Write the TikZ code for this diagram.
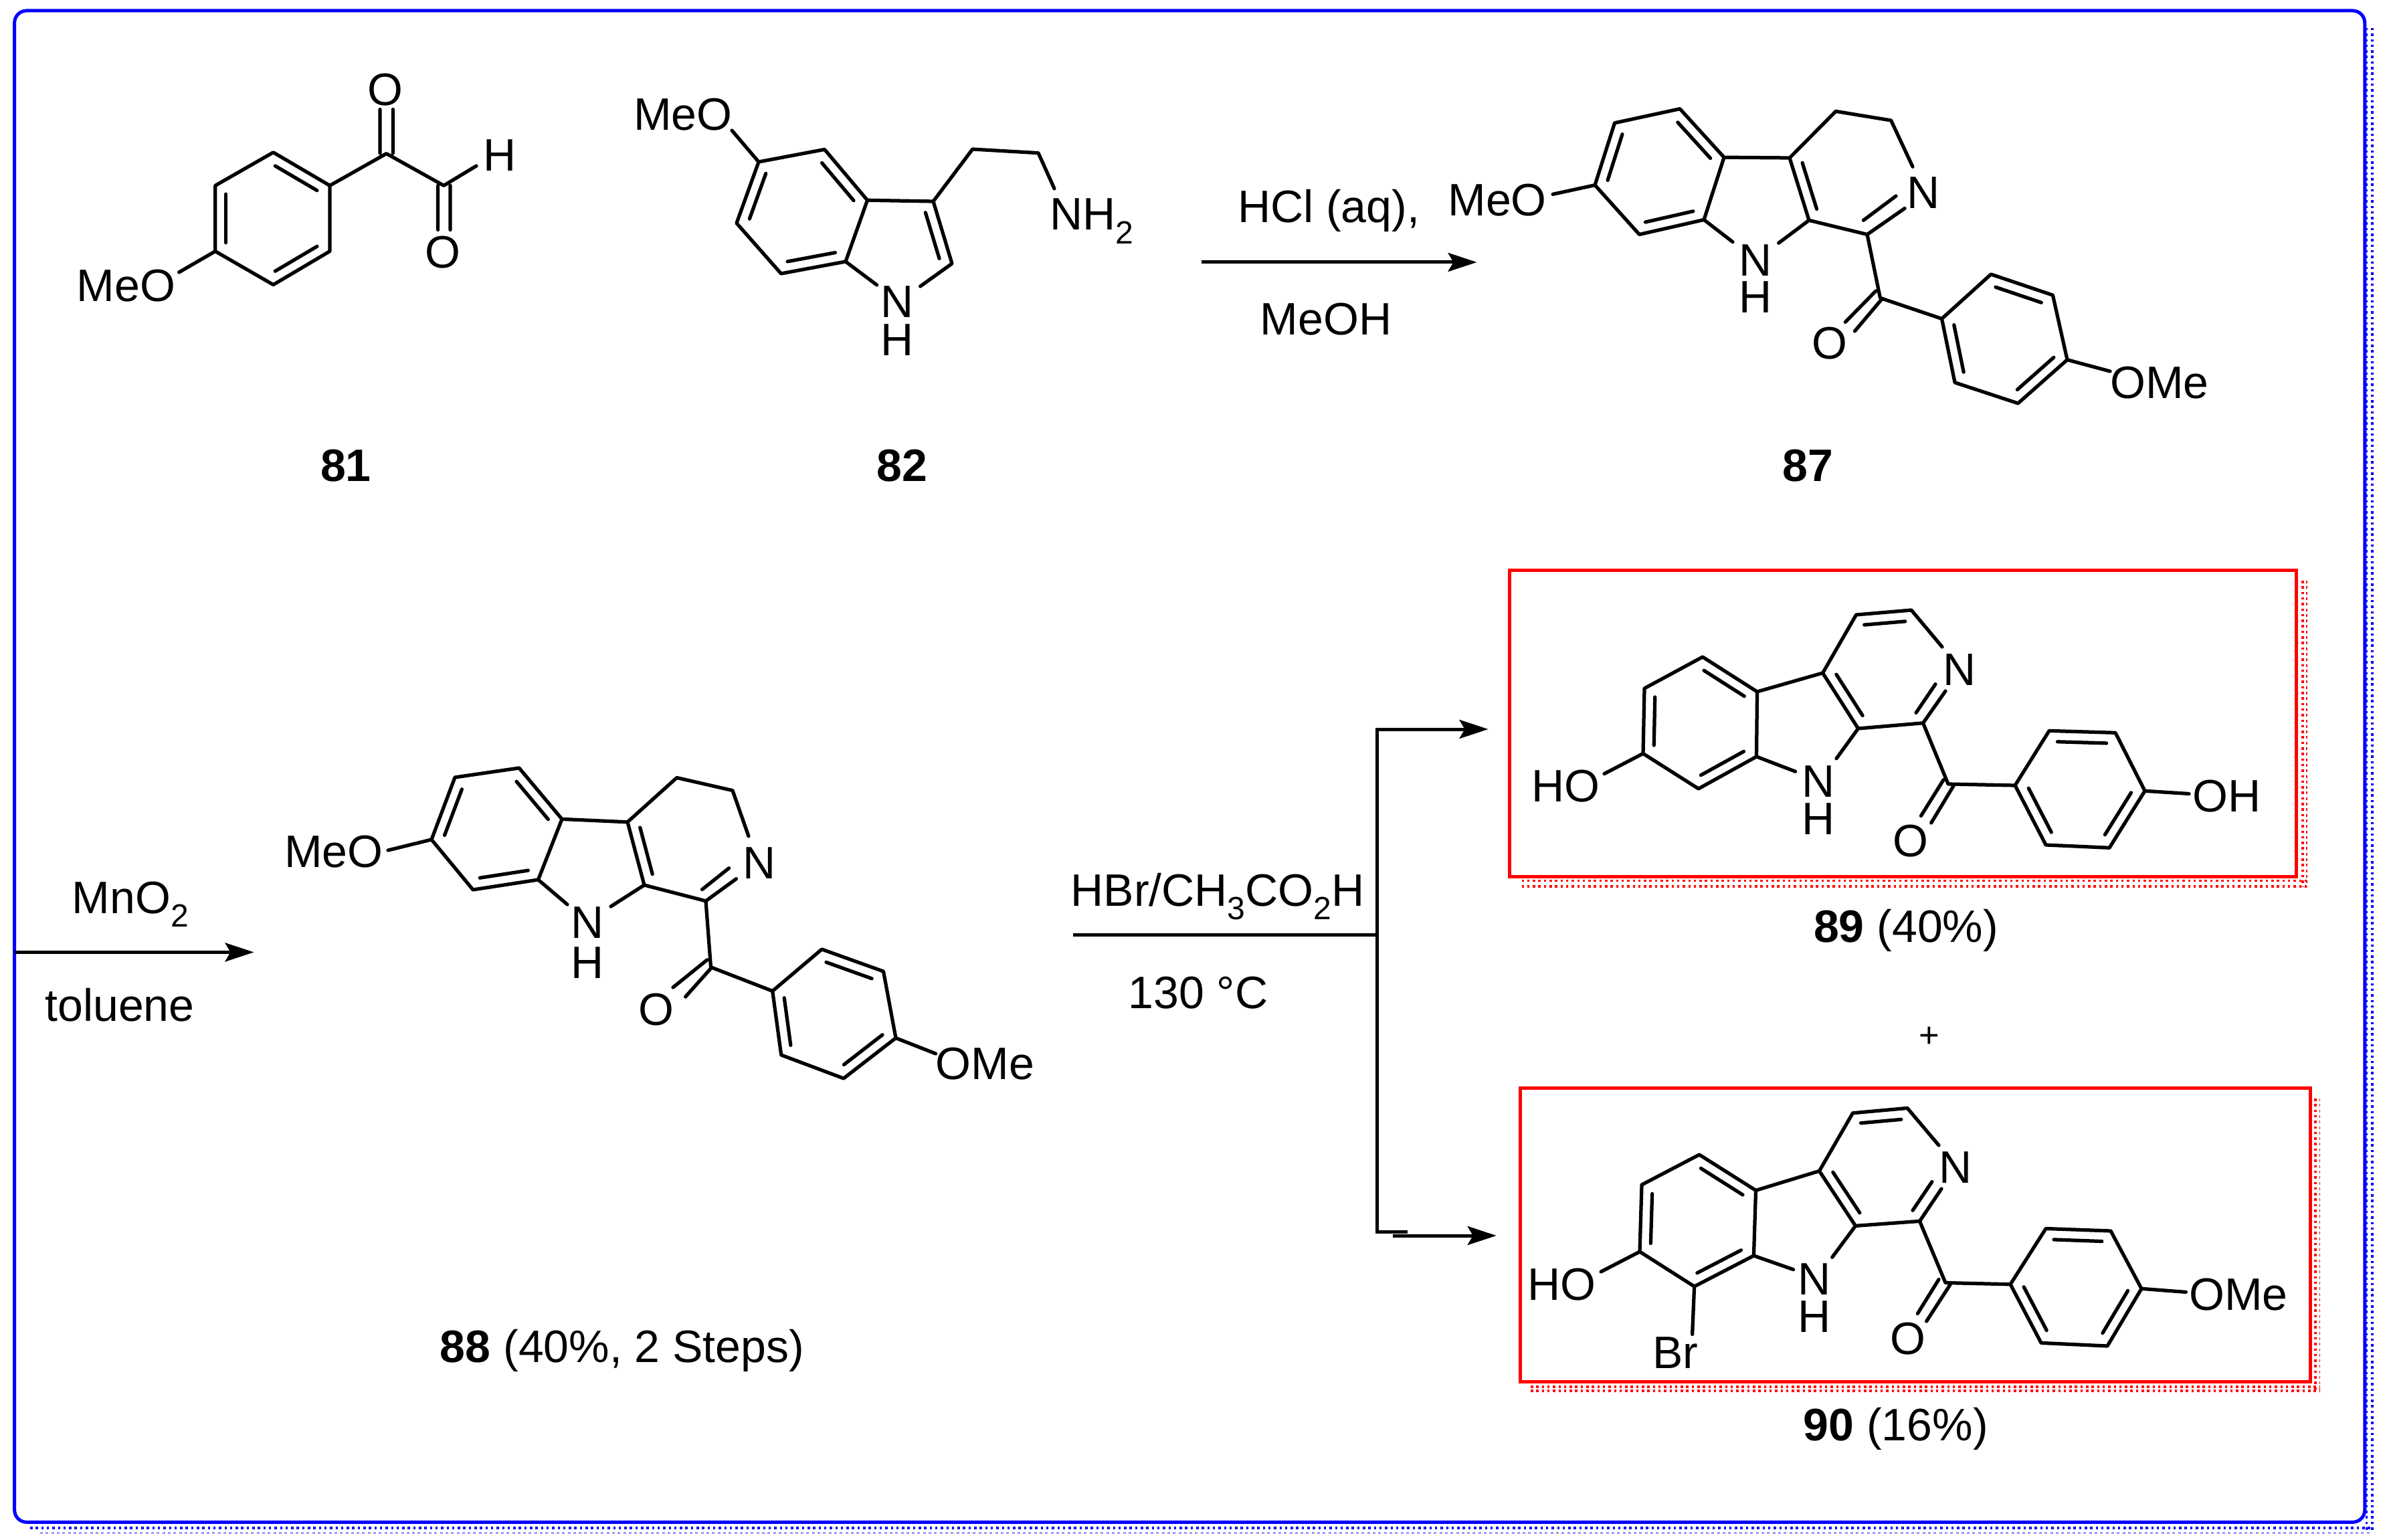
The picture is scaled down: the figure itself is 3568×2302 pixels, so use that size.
\documentclass[tikz,border=0pt]{standalone}
\usepackage{fontspec}
\setmainfont{Liberation Sans}
\usetikzlibrary{arrows.meta,calc}
\newcommand{\chemlow}[1]{\raisebox{-.58ex}{\fontsize{9.6}{10}\selectfont #1}}
\newcommand{\inb}[2]{\draw[bond] ($(#1)!.13!(#2)!-3.2pt!90:(#2)$) -- ($(#2)!.13!(#1)!3.2pt!90:(#1)$);}
\newcommand{\pts}[1]{\foreach \n/\x/\y in {#1} {\coordinate (\n) at (\x,\y);}}
\tikzset{
  bond/.style={line width=1.05pt,line cap=round,line join=round,black},
  lbl/.style={font=\fontsize{13.6}{15}\selectfont,inner sep=0pt,text=black},
  rxn/.style={line width=1pt,black},
  rxnarrow/.style={rxn,-{Stealth[length=8.6pt,width=5.6pt,inset=1.6pt]}},
  frameblue/.style={draw={rgb,255:red,0;green,0;blue,255},line width=1pt},
  framered/.style={draw={rgb,255:red,255;green,0;blue,0},line width=1pt},
  dotblue/.style={draw={rgb,255:red,0;green,0;blue,255},line width=.7pt,dash pattern=on .7pt off .96pt},
  dotred/.style={draw={rgb,255:red,255;green,0;blue,0},line width=.7pt,dash pattern=on .7pt off .96pt},
  thinblue/.style={draw={rgb,255:red,0;green,0;blue,255},line width=.3pt,dash pattern=on .8pt off .86pt},
  thinred/.style={draw={rgb,255:red,255;green,0;blue,0},line width=.3pt,dash pattern=on .8pt off .86pt},
}
\begin{document}
\begin{tikzpicture}[x=0.2pt,y=-0.2pt]
\useasboundingbox (0,0) rectangle (3568,2302);
\fill[white] (0,0) rectangle (3568,2302);
% outer frame
\pts{fa/21.7/16,fb/3534.7/2275.3,fs1/3537.5/42,fs2/3537.5/2291,fs3/3545.7/42,fs4/3545.7/2291,fs5/45/2284,fs6/3546/2284,fs7/60/2291.3,fs8/3546/2291.3}
\draw[dotblue] (fs1) -- (fs2);
\draw[dotblue] (fs3) -- (fs4);
\draw[dotblue] (fs5) -- (fs6);
\draw[thinblue] (fs7) -- (fs8);
\draw[frameblue,rounded corners=3.6pt,fill=white] (fa) rectangle (fb);
% red boxes
\pts{ra/2256/852.8,rb/3432.5/1310,rs1/3441.7/868,rs2/3441.7/1326,rs3/3448/868,rs4/3448/1326,rs5/2274.5/1316.7,rs6/3448/1316.7,rs7/2274.5/1325,rs8/3448/1325}
\draw[dotred] (rs1) -- (rs2);
\draw[thinred] (rs3) -- (rs4);
\draw[dotred] (rs5) -- (rs6);
\draw[dotred] (rs7) -- (rs8);
\draw[framered] (ra) rectangle (rb);
\pts{sa/2272.4/1626,sb/3453/2065.4,ss1/3461/1642,ss2/3461/2079,ss3/3467.5/1642,ss4/3467.5/2079,ss5/2288/2073,ss6/3468/2073,ss7/2288/2079,ss8/3468/2079}
\draw[dotred] (ss1) -- (ss2);
\draw[thinred] (ss3) -- (ss4);
\draw[dotred] (ss5) -- (ss6);
\draw[dotred] (ss7) -- (ss8);
\draw[framered] (sa) rectangle (sb);

% ---- 81
\pts{a1/408.5/227.8,a2/493/277.4,a3/493/375.6,a4/408.5/425.6,a5/321.8/375.6,a6/321.8/277.4,ac1/577.6/229.6,ac2/663.3/277.4,
 ao1/568/163.6,ao2/587.4/163.6,ao3/568/229,ao4/587.4/229,ao5/654.6/343.5,ao6/673/343.5,ao7/654.6/277.4,ao8/673/277.4,ah/712/248,ame/267.6/407}
\draw[bond] (a1)--(a2)--(a3)--(a4)--(a5)--(a6)--cycle (a2)--(ac1)--(ac2)--(ah) (ao1)--(ao3) (ao2)--(ao4) (ao5)--(ao7) (ao6)--(ao8) (a5)--(ame);
\inb{a1}{a2}\inb{a3}{a4}\inb{a5}{a6}
\node[lbl] (t81o1) at (575.5,133.7) {O};
\node[lbl] (t81o2) at (662,377) {O};
\node[lbl] (t81h) at (747,232) {H};
\node[lbl] (t81me) at (188.4,427.4) {MeO};
\node[lbl] (l81) at (517,696) {\textbf{81}};

% ---- 82
\pts{b1/1134/242,b2/1232.5/223.4,b3/1296.5/299.3,b4/1264/391,b5/1167.5/409,b6/1101/333.6,b7/1395/301,b8/1423/394,bn1/1310.6/426,bn2/1375.6/428,bc1/1453.7/223,bc2/1552/228.7,bn3/1576/282,bo/1094/195}
\draw[bond] (b1)--(b2)--(b3)--(b4)--(b5)--(b6)--cycle (b3)--(b7)--(b8)--(bn2) (b4)--(bn1) (b7)--(bc1)--(bc2)--(bn3) (b1)--(bo);
\inb{b2}{b3}\inb{b4}{b5}\inb{b6}{b1}\inb{b7}{b8}
\node[lbl] (t82n) at (1341,451.5) {N};
\node[lbl] (t82h) at (1341,508.6) {H};
\node[lbl,anchor=base west] (t82nh) at (1568,344) {NH\chemlow{2}};
\node[lbl] (t82me) at (1021,171.6) {MeO};
\node[lbl] (l82) at (1348.5,696) {\textbf{82}};

% ---- arrow 1
\pts{ar1a/1795.5/392,ar1b/2207.5/392}
\draw[rxnarrow] (ar1a) -- (ar1b);
\node[lbl] (tHCl) at (1986,315) {HCl (aq),};
\node[lbl] (tMeOH) at (1982,477) {MeOH};

% ---- 87
\pts{c1/2413.5/183.8,c2/2511/162.7,c3/2577/235.2,c4/2547/328.5,c5/2450.4/350.5,c6/2384/276.7,c7/2675/236,c8/2704/329.3,c9/2744/166.4,c10/2826.6/180,cne/2859/249.3,c11/2791/350.5,cno/2847/311.5,cni1/2834/293,cni2/2785.4/329.3,
 cn1/2590/361.7,cn2/2658.6/363.3,cc/2810.4/445.4,co1/2803.8/435,co2/2758.3/481.4,co3/2812.5/447.5,co4/2772.4/495,
 d1/2902.5/476.5,d2/2976/410,d3/3068.4/441.2,d4/3090/537.8,d5/3016.4/602.9,d6/2922/571.8,dm/3154/555,cm/2321/290.4}
\draw[bond] (c1)--(c2)--(c3)--(c4)--(c5)--(c6)--cycle (c3)--(c7)--(c8)--(c11)--(cno) (c7)--(c9)--(c10)--(cne) (c4)--(cn1) (c8)--(cn2) (c11)--(cc)--(d1) (co1)--(co2) (co3)--(co4) (cni1)--(cni2) (d1)--(d2)--(d3)--(d4)--(d5)--(d6)--cycle (d4)--(dm) (c6)--(cm);
\inb{c2}{c3}\inb{c4}{c5}\inb{c6}{c1}\inb{d2}{d3}\inb{d4}{d5}\inb{d6}{d1}
\inb{c8}{c7}
\node[lbl] (t87n) at (2875.4,288) {N};
\node[lbl] (t87n2) at (2624,389.4) {N};
\node[lbl] (t87h) at (2624,444) {H};
\node[lbl] (t87o) at (2734.5,513) {O};
\node[lbl] (t87ome) at (3228,572) {OMe};
\node[lbl] (t87me) at (2238,299.5) {MeO};
\node[lbl] (l87) at (2702,696) {\textbf{87}};

% ---- arrow 2
\pts{ar2a/21.7/1423.4,ar2b/379.5/1423.4}
\draw[rxnarrow] (ar2a) -- (ar2b);
\node[lbl,anchor=base] (tMn) at (195,1365) {MnO\chemlow{2}};
\node[lbl] (ttol) at (179,1502) {toluene};

% ---- 88
\pts{e1/680/1162,e2/776/1148,e3/840/1224.4,e4/804.5/1315,e5/707/1330,e6/645/1255,e7/938/1228.8,e8/963/1323,e9/1011.6/1162.5,e10/1095/1181.6,ene/1119/1250,e11/1055/1346.8,eno/1100.5/1313.7,eni1/1089.6/1297.7,eni2/1049.5/1329.6,
 en1/848/1352,en2/913/1355,ec/1062.5/1445.7,eo1/1057/1434.8,eo2/1006/1476,eo3/1062.5/1447.6,eo4/1024.6/1490,
 f1/1154.7/1481.4,f2/1228.4/1419,f3/1320.5/1452,f4/1339/1551.6,f5/1261/1612,f6/1167.7/1577,fm/1398.6/1575,em/580/1271}
\draw[bond] (e1)--(e2)--(e3)--(e4)--(e5)--(e6)--cycle (e3)--(e7)--(e8)--(e11)--(eno) (e7)--(e9)--(e10)--(ene) (e4)--(en1) (e8)--(en2) (e11)--(ec)--(f1) (eo1)--(eo2) (eo3)--(eo4) (eni1)--(eni2) (f1)--(f2)--(f3)--(f4)--(f5)--(f6)--cycle (f4)--(fm) (e6)--(em);
\inb{e2}{e3}\inb{e4}{e5}\inb{e6}{e1}\inb{f2}{f3}\inb{f4}{f5}\inb{f6}{f1}
\inb{e8}{e7}
\node[lbl] (t88n) at (1135,1290) {N};
\node[lbl] (t88n2) at (878,1379.4) {N};
\node[lbl] (t88h) at (878,1439) {H};
\node[lbl] (t88o) at (981,1509.5) {O};
\node[lbl] (t88ome) at (1472.3,1590) {OMe};
\node[lbl] (t88me) at (498.7,1273.5) {MeO};
\node[lbl,anchor=base] (l88) at (930,2036) {\textbf{88} (40\%, 2 Steps)};

% ---- branch
\pts{g1/1604/1397,g2/2058/1397,g3/2058/1090,g4/2224.5/1090,g5/2058/1841,g6/2104/1841,g7/2081.6/1847,g8/2236.7/1847}
\draw[rxn] (g1) -- (g2);
\draw[rxnarrow] (g2) -- (g3) -- (g4);
\draw[rxn] (g2) -- (g5) -- (g6);
\draw[rxnarrow] (g7) -- (g8);
\node[lbl,anchor=base] (tHBr) at (1820,1354) {HBr/CH\chemlow{3}CO\chemlow{2}H};
\node[lbl] (t130) at (1791,1484) {130 °C};

% ---- 89
\pts{h1/2458/1029,h2/2545/982,h3/2626.5/1034,h4/2625.5/1131,h5/2538.8/1179,h6/2456/1126.4,h7/2724.5/1006,h8/2777.5/1089,h9/2774.5/919,h10/2857/912,hne/2903/967,h11/2874.5/1080.8,hno/2908/1033,hni1/2893/1022.7,hni2/2864/1065.4,
 hn1/2683.7/1153.3,hn2/2745/1133.8,hc/2912/1172,ho1/2905/1165.7,ho2/2871.4/1219.6,ho3/2920.4/1174,ho4/2886.7/1230,
 i1/3012/1174,i2/3063/1092.4,i3/3162/1095.3,i4/3206/1182.3,i5/3153/1267.3,i6/3058/1263,im/3272/1186.5,hm/2398/1156.6}
\draw[bond] (h1)--(h2)--(h3)--(h4)--(h5)--(h6)--cycle (h3)--(h7)--(h8)--(h11)--(hno) (h7)--(h9)--(h10)--(hne) (h4)--(hn1) (h8)--(hn2) (h11)--(hc)--(i1) (ho1)--(ho2) (ho3)--(ho4) (hni1)--(hni2) (i1)--(i2)--(i3)--(i4)--(i5)--(i6)--cycle (i4)--(im) (h6)--(hm);
\inb{h2}{h3}\inb{h4}{h5}\inb{h6}{h1}\inb{i2}{i3}\inb{i4}{i5}\inb{i6}{i1}
\inb{h8}{h7}\inb{h9}{h10}
\node[lbl] (t89n) at (2928.6,1001) {N};
\node[lbl] (t89n2) at (2718,1168) {N};
\node[lbl] (t89h) at (2718,1224) {H};
\node[lbl] (t89o) at (2856,1257) {O};
\node[lbl] (t89oh) at (3328.6,1189.8) {OH};
\node[lbl] (t89ho) at (2340.8,1175.3) {HO};
\node[lbl,anchor=base] (l89) at (2849,1408) {\textbf{89} (40\%)};
\node[lbl,font=\fontsize{10.5}{12}\selectfont] (tplus) at (2883.5,1550) {+};

% ---- 90
\pts{j1/2454/1771,j2/2540/1726,j3/2624.5/1779.4,j4/2621.4/1877,j5/2532.6/1923,j6/2451/1871,j7/2719.4/1750.4,j8/2773.5/1832.4,j9/2769.4/1663.8,j10/2851/1656.4,jne/2898/1712,j11/2869.4/1825.4,jno/2902/1777,jni1/2887.8/1766.5,jni2/2859/1809.3,
 jn1/2680.6/1897.7,jn2/2738.7/1879.3,jc/2908/1917.5,jo1/2898/1912.5,jo2/2866.3/1963.6,jo3/2915.3/1919.8,jo4/2879.6/1975,
 k1/3005/1919.8,k2/3058/1836.5,k3/3155/1840,k4/3201/1926.3,k5/3150/2012,k6/3051/2007.4,km/3267.4/1931.4,jm/2393/1901,jb/2529.6/1994.5}
\draw[bond] (j1)--(j2)--(j3)--(j4)--(j5)--(j6)--cycle (j3)--(j7)--(j8)--(j11)--(jno) (j7)--(j9)--(j10)--(jne) (j4)--(jn1) (j8)--(jn2) (j11)--(jc)--(k1) (jo1)--(jo2) (jo3)--(jo4) (jni1)--(jni2) (k1)--(k2)--(k3)--(k4)--(k5)--(k6)--cycle (k4)--(km) (j6)--(jm) (j5)--(jb);
\inb{j2}{j3}\inb{j4}{j5}\inb{j6}{j1}\inb{k2}{k3}\inb{k4}{k5}\inb{k6}{k1}
\inb{j8}{j7}\inb{j9}{j10}
\node[lbl] (t90n) at (2923.5,1745) {N};
\node[lbl] (t90n2) at (2712,1912.5) {N};
\node[lbl] (t90h) at (2712,1967.7) {H};
\node[lbl] (t90o) at (2852,2001.4) {O};
\node[lbl] (t90ome) at (3346,1934.6) {OMe};
\node[lbl] (t90ho) at (2334.7,1919.8) {HO};
\node[lbl] (t90br) at (2504,2022) {Br};
\node[lbl,anchor=base] (l90) at (2833.7,2153) {\textbf{90} (16\%)};
\end{tikzpicture}
\end{document}
